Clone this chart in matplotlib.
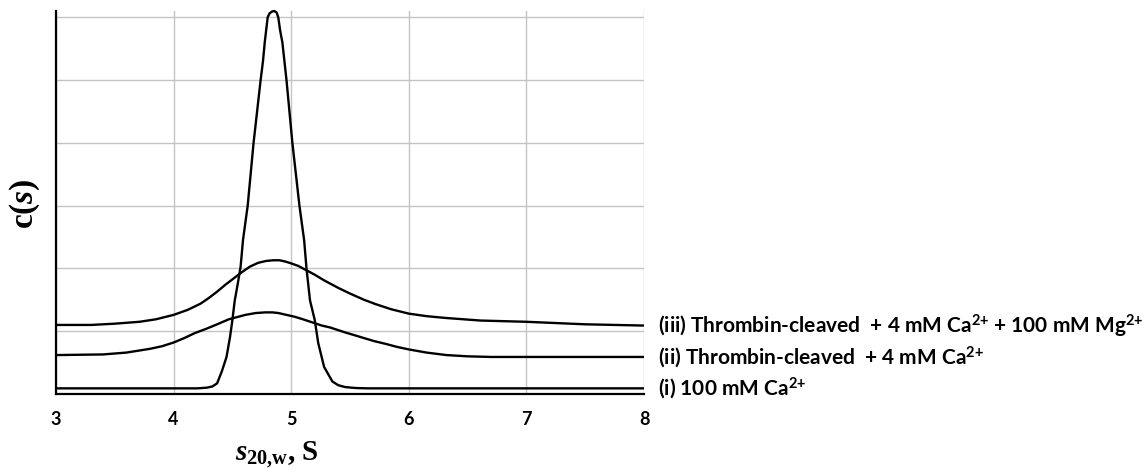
import numpy as np
import matplotlib
matplotlib.use("Agg")
import matplotlib.pyplot as plt

# ---- data ----
x_i = [3.0, 4.20, 4.28, 4.33, 4.37, 4.41, 4.45, 4.48, 4.50, 4.52, 4.545, 4.57, 4.59, 4.63,
       4.68, 4.71, 4.74, 4.76, 4.775, 4.80, 4.815, 4.835, 4.855, 4.875, 4.89, 4.905, 4.925,
       4.96, 4.985, 5.01, 5.04, 5.07, 5.11, 5.13, 5.16, 5.20, 5.23, 5.28, 5.35, 5.40, 5.46,
       5.55, 5.65, 8.0]
y_i = [0.09, 0.09, 0.10, 0.12, 0.17, 0.36, 0.59, 0.91, 1.18, 1.49, 1.75, 2.03, 2.45, 3.0,
       4.0, 4.5, 5.0, 5.3, 5.6, 6.0, 6.06, 6.09, 6.10, 6.08, 6.0, 5.8, 5.6,
       5.0, 4.5, 4.0, 3.5, 3.0, 2.45, 2.0, 1.49, 1.18, 0.81, 0.43, 0.20, 0.14, 0.11,
       0.095, 0.09, 0.09]

x_ii = [3.0, 3.4, 3.6, 3.8, 3.9, 4.0, 4.09, 4.18, 4.28, 4.37, 4.47, 4.55, 4.61, 4.70, 4.78,
        4.84, 4.89, 4.96, 5.03, 5.10, 5.18, 5.26, 5.33, 5.46, 5.55, 5.62, 5.71, 5.80, 5.90,
        6.0, 6.15, 6.32, 6.5, 6.7, 7.0, 8.0]
y_ii = [0.62, 0.63, 0.66, 0.72, 0.76, 0.82, 0.89, 0.97, 1.04, 1.11, 1.19, 1.23, 1.26, 1.29,
        1.30, 1.30, 1.29, 1.26, 1.23, 1.19, 1.14, 1.09, 1.06, 0.98, 0.93, 0.89, 0.84, 0.80,
        0.75, 0.71, 0.66, 0.62, 0.60, 0.59, 0.59, 0.59]

x_iii = [3.0, 3.3, 3.5, 3.71, 3.85, 4.0, 4.12, 4.23, 4.30, 4.37, 4.44, 4.51, 4.58, 4.65,
         4.72, 4.79, 4.85, 4.90, 4.95, 5.0, 5.06, 5.13, 5.20, 5.28, 5.40, 5.50, 5.62, 5.72,
         5.85, 6.0, 6.15, 6.32, 6.61, 7.0, 7.5, 8.0]
y_iii = [1.10, 1.10, 1.12, 1.15, 1.19, 1.26, 1.34, 1.44, 1.53, 1.63, 1.74, 1.84, 1.94, 2.03,
         2.09, 2.12, 2.13, 2.13, 2.11, 2.08, 2.04, 1.97, 1.90, 1.81, 1.69, 1.60, 1.50, 1.43,
         1.35, 1.28, 1.24, 1.21, 1.17, 1.15, 1.11, 1.09]

x_ticks = [3, 4, 5, 6, 7, 8]
y_grid = [0, 1, 2, 3, 4, 5, 6]
labels = [r"(iii) Thrombin-cleaved  + 4 mM Ca$^{\mathsf{2{+}}}$ + 100 mM Mg$^{\mathsf{2{+}}}$",
          r"(ii) Thrombin-cleaved  + 4 mM Ca$^{\mathsf{2{+}}}$",
          r"(i) 100 mM Ca$^{\mathsf{2{+}}}$"]

# ---- figure ----
plt.rcParams['mathtext.fontset'] = 'custom'
plt.rcParams['mathtext.rm'] = 'Liberation Serif:bold'
plt.rcParams['mathtext.it'] = 'Liberation Serif:italic:bold'
plt.rcParams['mathtext.bf'] = 'Liberation Serif:bold'
plt.rcParams['mathtext.sf'] = 'Lato:bold'

fig = plt.figure(figsize=(11.47, 4.69), dpi=100)
W, H = 1147, 469
ax = fig.add_axes([56 / W, 1 - 394 / H, (644 - 56) / W, (394 - 11) / H])

for xs, ys in [(x_i, y_i), (x_ii, y_ii), (x_iii, y_iii)]:
    ax.plot(xs, ys, color='black', lw=1.7, solid_joinstyle='round', solid_capstyle='butt',
            clip_on=False, zorder=3)

ax.set_xlim(3, 8)
ax.set_ylim(0, 6.1)
ax.set_xticks(x_ticks)
ax.set_yticks(y_grid)
ax.set_yticklabels([])
ax.grid(True, color='#c4c4c4', lw=1.0, zorder=0)
ax.set_axisbelow(True)
ax.tick_params(axis='both', length=0)
ax.tick_params(axis='x', pad=12)
for lab in ax.get_xticklabels():
    lab.set_fontfamily('Lato')
    lab.set_fontweight('bold')
    lab.set_fontsize(13)
ax.spines['top'].set_visible(False)
ax.spines['right'].set_visible(False)
for s in ['left', 'bottom']:
    ax.spines[s].set_linewidth(1.6)
    ax.spines[s].set_color('black')

# axis labels
fig.text(277 / W, 1 - 460 / H, r'$\mathit{s}_{\mathrm{20{,}w}}$, S', ha='center', va='baseline',
         fontsize=21, fontfamily='Liberation Serif', fontweight='bold')
fig.text(25 / W, 1 - 204 / H, r'c($\mathit{s}$)', ha='center', va='center', rotation=90,
         fontsize=24, fontfamily='Liberation Serif', fontweight='bold')

# series labels
for lab, yy in zip(labels, [y_iii[-1], y_ii[-1], y_i[-1]]):
    ax.annotate(lab, xy=(8, yy), xytext=(14, 0), textcoords='offset pixels',
                va='center', ha='left', fontsize=15, fontweight='bold',
                fontfamily='Lato', annotation_clip=False)

fig.savefig('out.png', dpi=100)
